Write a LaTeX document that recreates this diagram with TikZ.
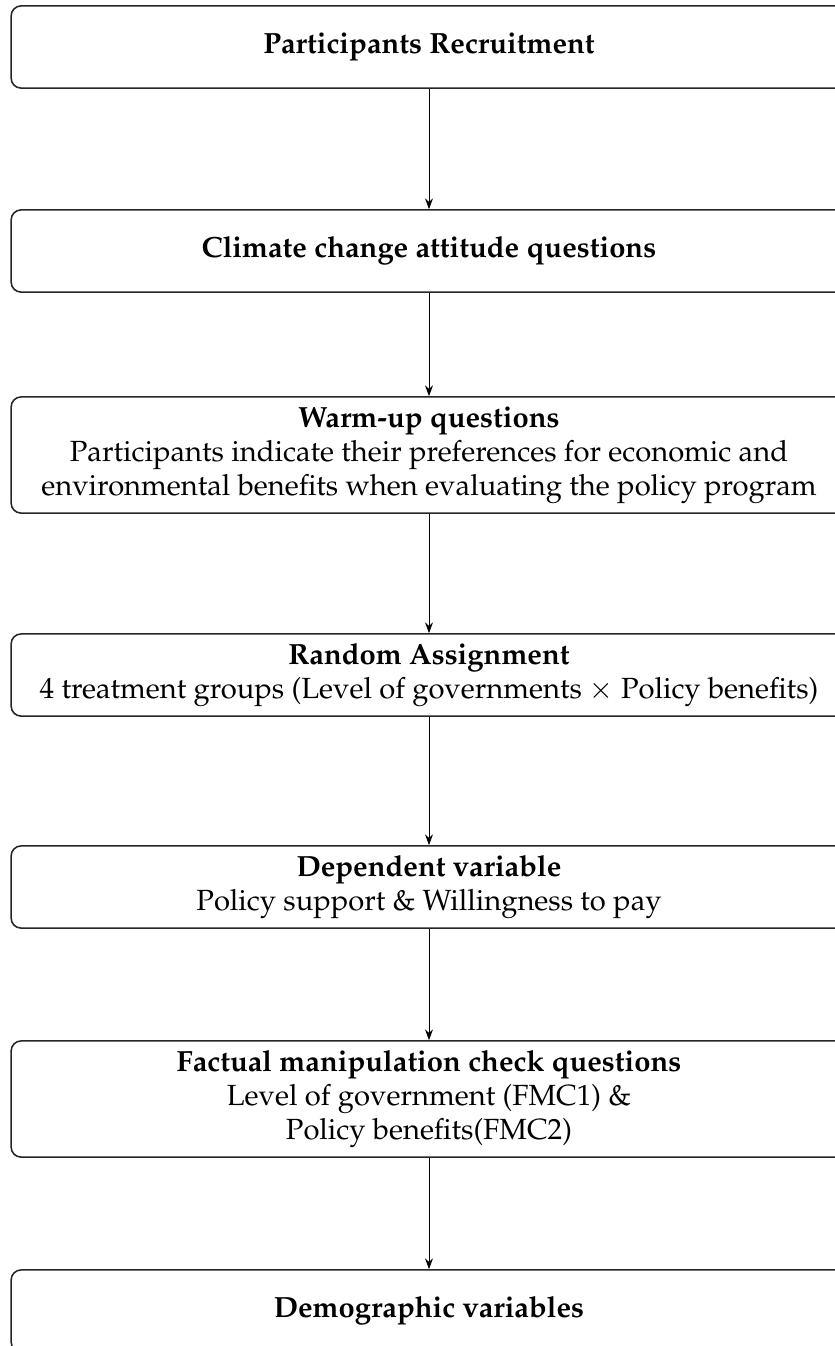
\documentclass[tikz,border=0pt]{standalone}
\usepackage[T1]{fontenc}
\usepackage{mathpazo}
\usetikzlibrary{arrows.meta}
\begin{document}
\begin{tikzpicture}[x=0.353pt,y=-0.353pt,
  stagebox/.style={draw=black!85, line width=0.55pt, rounded corners=3.5pt, minimum width=295pt,
    inner sep=0pt, align=center, font=\fontsize{10.3}{12}\selectfont},
  onerow/.style={stagebox, minimum height=29pt},
  threerow/.style={stagebox, minimum height=41pt},
  flow/.style={-{Stealth[length=3.8pt,width=2.8pt]}, line width=0.35pt}]
\useasboundingbox (0,0) rectangle (835,1346);
\node[onerow] (b1) at (429,47) {\textbf{Participants Recruitment}};
\node[onerow] (b2) at (429,251) {\textbf{Climate change attitude questions}};
\node[threerow] (b3) at (429,455) {\textbf{Warm-up questions}\\Participants indicate their preferences for economic and\\environmental benefits when evaluating the policy program};
\node[onerow] (b4) at (429,675) {\textbf{Random Assignment}\\4 treatment groups (Level of governments $\times$ Policy benefits)};
\node[onerow] (b5) at (429,887) {\textbf{Dependent variable}\\Policy support \& Willingness to pay};
\node[threerow] (b6) at (429,1099) {\textbf{Factual manipulation check questions}\\Level of government (FMC1) \&\\Policy benefits(FMC2)};
\node[onerow] (b7) at (429,1311) {\textbf{Demographic variables}};
\draw[flow] (b1) -- (b2);
\draw[flow] (b2) -- (b3);
\draw[flow] (b3) -- (b4);
\draw[flow] (b4) -- (b5);
\draw[flow] (b5) -- (b6);
\draw[flow] (b6) -- (b7);
\end{tikzpicture}
\end{document}
